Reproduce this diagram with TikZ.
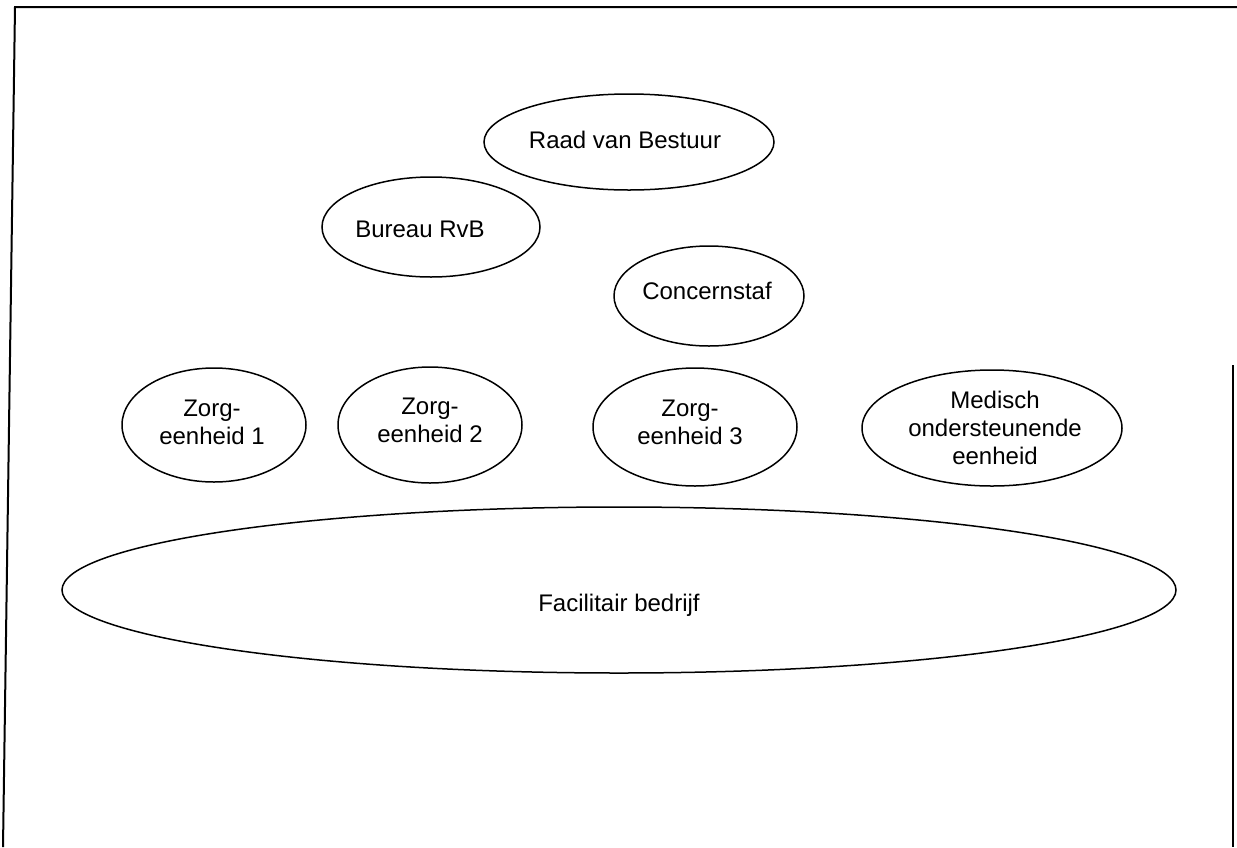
\documentclass[tikz,border=0pt]{standalone}
\usepackage{fontspec}
\setmainfont{Liberation Sans}
\usetikzlibrary{shapes.geometric}
\begin{document}
\begin{tikzpicture}[x=1pt,y=-1pt,
  oval/.style={ellipse, draw, line width=1.5pt, inner sep=0pt},
  lbl/.style={align=center, inner sep=0pt, font=\fontsize{24}{28}\selectfont},
  frameline/.style={line width=2pt}]
  % page area
  \useasboundingbox (0,0) rectangle (1237,847);

  % frame (open at the bottom)
  \coordinate (ftl) at (15,7);
  \coordinate (fbl) at (3,847);
  \coordinate (ftr) at (1237,7);
  \coordinate (frt) at (1233,365);
  \coordinate (frb) at (1233,847);
  \draw[frameline] (fbl) -- (ftl) -- (ftr);
  \draw[frameline] (frt) -- (frb);

  % units
  \node[oval, minimum width=290pt, minimum height=96pt] (rvb) at (629,142) {};
  \node[lbl] at (625,140) {Raad van Bestuur};

  \node[oval, minimum width=218pt, minimum height=100pt] (bureau) at (431,227) {};
  \node[lbl] at (420,229) {Bureau RvB};

  \node[oval, minimum width=190pt, minimum height=100pt] (staf) at (709,296) {};
  \node[lbl] at (707,291) {Concernstaf};

  \node[oval, minimum width=184pt, minimum height=114pt] (ze1) at (214,425) {};
  \node[lbl] at (212,422) {Zorg-\\eenheid 1};

  \node[oval, minimum width=184pt, minimum height=116pt] (ze2) at (430,425) {};
  \node[lbl] at (430,420) {Zorg-\\eenheid 2};

  \node[oval, minimum width=204pt, minimum height=118pt] (ze3) at (695,427) {};
  \node[lbl] at (690,422) {Zorg-\\eenheid 3};

  \node[oval, minimum width=260pt, minimum height=116pt] (moe) at (992,428) {};
  \node[lbl] at (995,428) {Medisch\\ondersteunende\\eenheid};

  \node[oval, minimum width=1114pt, minimum height=166pt] (fb) at (619,590) {};
  \node[lbl] at (619,605) {Facilitair bedrijf};
\end{tikzpicture}
\end{document}
